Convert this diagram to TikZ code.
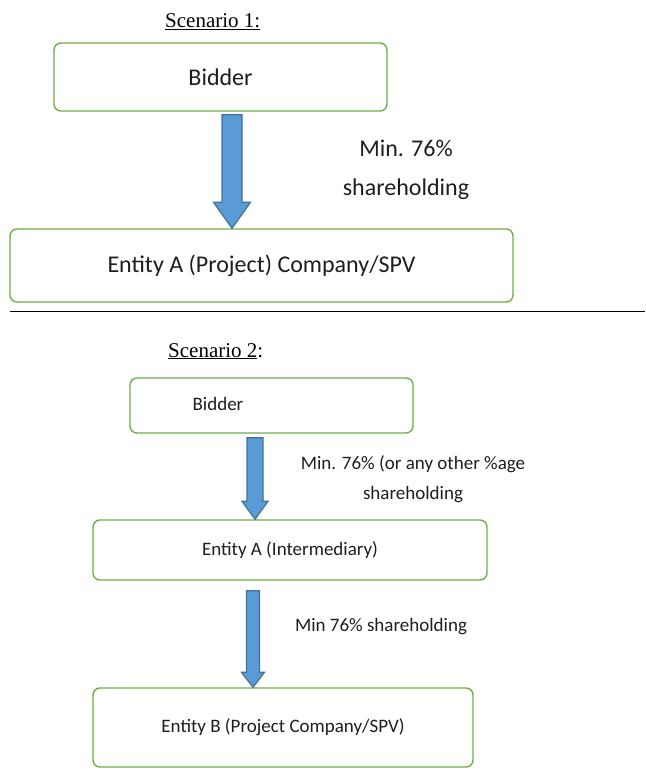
\documentclass[tikz,border=0pt]{standalone}
\usepackage{fontspec}
\setmainfont{Liberation Serif}
\newfontfamily\calibri{Carlito}
\usetikzlibrary{calc}
\definecolor{boxgreen}{HTML}{70AD47}
\definecolor{arrowfill}{HTML}{5B9BD5}
\definecolor{arrowline}{HTML}{41719C}
\definecolor{ink}{HTML}{1E1E1E}
% block arrow: start, tip, shaft half width, head half width, head length
\newcommand\holdarrow[5]{%
  \draw[holding] let \p1=(#1), \p2=(#2) in
    (\x1-#3,\y1) -- (\x1+#3,\y1) -- (\x1+#3,\y2+#5) -- (\x1+#4,\y2+#5) -- (\x2,\y2)
    -- (\x1-#4,\y2+#5) -- (\x1-#3,\y2+#5) -- cycle;}
\begin{document}
\begin{tikzpicture}[x=1pt,y=-1pt,
  box/.style={draw=boxgreen,line width=1.4pt,rounded corners=7pt,fill=white,text=ink,inner sep=0pt},
  big/.style={font=\calibri\fontsize{24}{39}\selectfont,text=ink,align=center},
  small/.style={font=\calibri\fontsize{19}{30}\selectfont,text=ink,align=center},
  holding/.style={draw=arrowline,fill=arrowfill,line width=1.2pt,line join=miter},
  title/.style={font=\fontsize{21}{25}\selectfont,anchor=base west,inner sep=0pt}]
  \useasboundingbox (0,0) rectangle (645,770);
  % Scenario 1
  \node[title] (s1) at (165,28) {\underline{Scenario 1:}};
  \node[box,big,minimum width=333pt,minimum height=68pt] (bid1) at (220.5,77) {Bidder};
  \node[box,big,minimum width=503pt,minimum height=73pt] (ent1) at (261.5,265.5) {Entity A (Project) Company/SPV};
  \coordinate (x1) at (232,0);
  \holdarrow{$(bid1.south -| x1)+(0,3)$}{ent1.north -| x1}{10pt}{18.5pt}{26pt}
  \node[big] (l1) at (406,170) {Min. 76\%\\shareholding};
  % divider
  \coordinate (d1) at (10,311);
  \coordinate (d2) at (645,311);
  \draw[black,line width=1pt] (d1) -- (d2);
  % Scenario 2
  \node[title] (s2) at (168,357) {\underline{Scenario 2}:};
  \node[box,minimum width=283pt,minimum height=55pt,
    label={[small,xshift=-53.5pt,yshift=1.5pt]center:Bidder}] (bid2) at (271.5,405.5) {};
  \node[box,small,minimum width=394pt,minimum height=60pt] (ent2) at (290,550) {Entity A (Intermediary)};
  \node[box,small,minimum width=380pt,minimum height=79pt] (ent3) at (283,727.5) {Entity B (Project Company/SPV)};
  \coordinate (x2) at (255,0);
  \coordinate (x3) at (253,0);
  \holdarrow{$(bid2.south -| x2)+(0,4)$}{ent2.north -| x2}{8pt}{13pt}{18pt}
  \holdarrow{$(ent2.south -| x3)+(0,10)$}{ent3.north -| x3}{6.5pt}{11.5pt}{15pt}
  \node[small] (l2) at (413,479) {Min. 76\% (or any other \%age\\shareholding};
  \node[small] (l3) at (381,627) {Min 76\% shareholding};
\end{tikzpicture}
\end{document}
